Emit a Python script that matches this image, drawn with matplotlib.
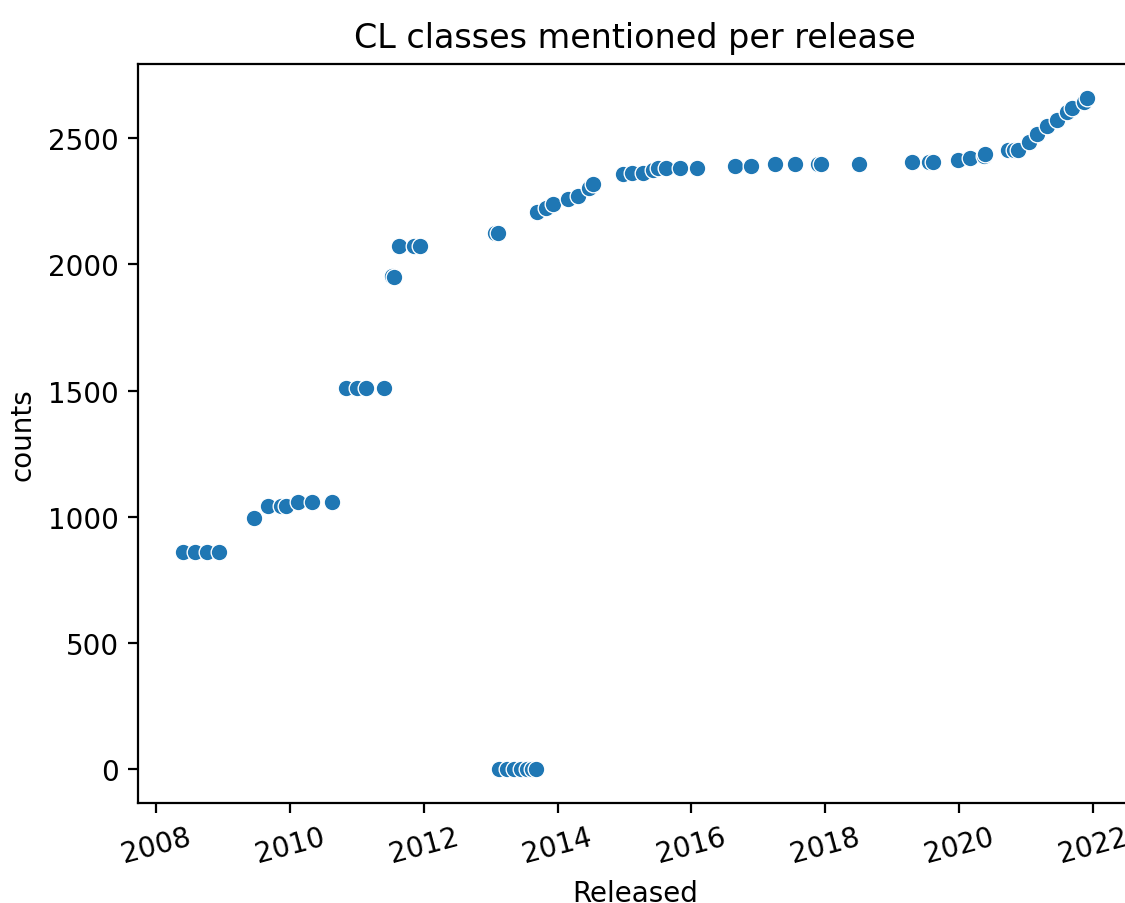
import pandas as pd
import matplotlib
matplotlib.use("Agg")
import matplotlib.pyplot as plt
import seaborn as sns

# release dates and class counts
released = [
    "2008-05-30", "2008-08-01", "2008-10-08", "2008-12-08",
    "2009-06-20", "2009-09-05", "2009-11-15", "2009-12-10",
    "2010-02-15", "2010-05-01", "2010-08-18",
    "2010-11-06", "2011-01-05", "2011-02-18", "2011-05-30",
    "2011-07-15", "2011-07-22", "2011-08-18", "2011-11-10", "2011-12-10",
    "2013-01-22", "2013-02-10",
    "2013-02-15", "2013-04-01", "2013-05-10", "2013-06-15", "2013-07-20",
    "2013-08-15", "2013-09-05",
    "2013-09-10", "2013-10-30", "2013-12-05", "2014-02-28", "2014-04-22",
    "2014-06-20", "2014-07-12",
    "2014-12-25", "2015-02-10", "2015-04-12", "2015-06-05", "2015-07-01",
    "2015-08-18", "2015-10-30", "2016-02-03",
    "2016-08-25", "2016-11-20", "2017-04-01", "2017-07-20", "2017-11-25",
    "2017-12-10", "2018-07-05",
    "2019-04-20", "2019-07-20", "2019-08-15", "2019-12-25", "2020-03-01",
    "2020-05-18", "2020-05-20",
    "2020-09-25", "2020-10-28", "2020-11-20",
    "2021-01-15", "2021-03-01", "2021-04-25", "2021-06-20", "2021-08-15",
    "2021-09-10", "2021-11-15", "2021-12-01",
]
counts = [
    862, 862, 862, 862,
    994, 1043, 1043, 1043,
    1058, 1058, 1058,
    1511, 1511, 1511, 1511,
    1952, 1950, 2072, 2072, 2072,
    2122, 2124,
    0, 0, 0, 0, 0,
    0, 0,
    2207, 2224, 2238, 2260, 2271,
    2304, 2317,
    2356, 2362, 2362, 2375, 2382,
    2380, 2380, 2380,
    2389, 2389, 2396, 2396, 2396,
    2396, 2396,
    2405, 2405, 2405, 2412, 2419,
    2429, 2438,
    2451, 2451, 2451,
    2485, 2517, 2547, 2570, 2603,
    2619, 2643, 2660,
]

df = pd.DataFrame({"Released": pd.to_datetime(released), "counts": counts})

fig = plt.figure(figsize=(1125 / 200, 904 / 200), dpi=200)
# right spine falls just outside the picture, as in the reference
ax = fig.add_axes([0.1229, 0.1106, 0.8836, 0.8175])

sns.scatterplot(data=df, x="Released", y="counts", ax=ax)

ax.set_title("CL classes mentioned per release")
plt.xticks(rotation=15)

fig.savefig("out.png", dpi=200)
